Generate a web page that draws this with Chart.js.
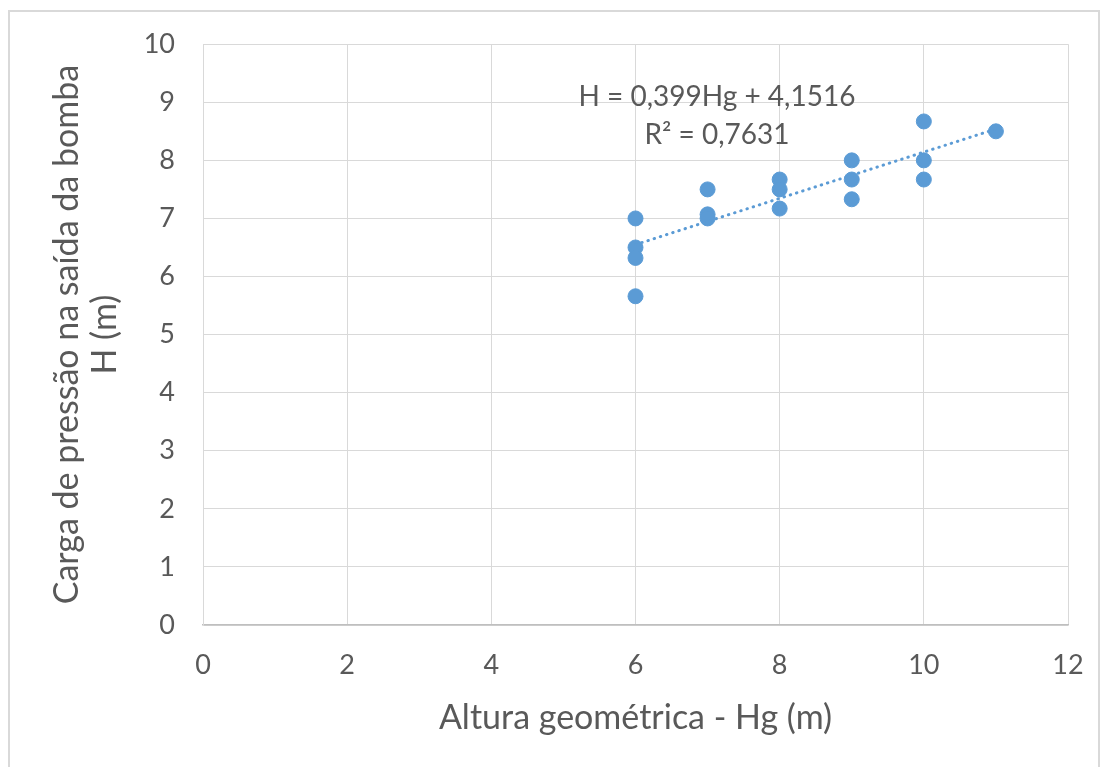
<!DOCTYPE html>
<html>
<head>
<meta charset="utf-8">
<script src="https://cdn.jsdelivr.net/npm/chart.js@4"></script>
<style>
  body { margin: 0; background: #fff; }
  #wrap { position: relative; width: 1105px; height: 767px; overflow: hidden; }
  #frame { position: absolute; left: 8px; top: 10px; width: 1092px; height: 780px; border: 2px solid #d9d9d9; box-sizing: border-box; }
  canvas { position: absolute; left: 0; top: 0; }
</style>
</head>
<body>
<div id="wrap">
  <div id="frame"></div>
  <canvas id="chart" width="1105" height="767"></canvas>
</div>
<script>
// measured points (Hg in m, H in m)
const hgValues = [6, 6, 6, 6, 7, 7, 7, 8, 8, 8, 9, 9, 9, 10, 10, 10, 11];
const hValues = [7.0, 6.5, 6.32, 5.66, 7.5, 7.07, 7.0, 7.67, 7.5, 7.17, 8.0, 7.67, 7.33, 8.67, 8.0, 7.67, 8.5];

// linear trendline ends, as drawn
const trendX = [6, 11];
const trendY = [6.55, 8.54];

const xTicks = [0, 2, 4, 6, 8, 10, 12];
const yTicks = [0, 1, 2, 3, 4, 5, 6, 7, 8, 9, 10];

const equationLines = ['H = 0,399Hg + 4,1516', 'R² = 0,7631'];

const textColor = '#595959';
const pointColor = '#5b9bd5';
const fontFamily = 'Lato, "Open Sans", sans-serif';

// writes the trendline equation on the plot
const equationLabel = {
  id: 'equationLabel',
  afterDatasetsDraw(chart) {
    const ctx = chart.ctx;
    const xs = chart.scales.x, ys = chart.scales.y;
    ctx.save();
    ctx.font = '28px ' + fontFamily;
    ctx.fillStyle = textColor;
    ctx.textAlign = 'center';
    ctx.textBaseline = 'middle';
    ctx.fillText(equationLines[0], xs.getPixelForValue(7.13), ys.getPixelForValue(9.09));
    ctx.fillText(equationLines[1], xs.getPixelForValue(7.13), ys.getPixelForValue(8.44));
    ctx.restore();
  }
};

const ctx = document.getElementById('chart').getContext('2d');
new Chart(ctx, {
  type: 'scatter',
  data: {
    datasets: [
      {
        label: 'Linear',
        type: 'line',
        data: trendX.map((x, i) => ({ x: x, y: trendY[i] })),
        borderColor: pointColor,
        borderWidth: 3,
        borderDash: [0.5, 6],
        borderCapStyle: 'round',
        pointRadius: 0,
        fill: false,
        order: 0
      },
      {
        label: 'H',
        data: hgValues.map((x, i) => ({ x: x, y: hValues[i] })),
        backgroundColor: pointColor,
        borderColor: pointColor,
        pointRadius: 7.5,
        order: 1
      }
    ]
  },
  options: {
    responsive: false,
    animation: false,
    layout: { padding: { top: 42, right: 37, left: 0, bottom: 0 } },
    plugins: {
      legend: { display: false },
      tooltip: { enabled: false }
    },
    scales: {
      x: {
        type: 'linear',
        min: 0,
        max: 12,
        afterBuildTicks: s => { s.ticks = xTicks.map(v => ({ value: v })); },
        afterFit: s => { s.height = 142; s.paddingLeft = 0; s.paddingRight = 0; },
        grid: { color: '#d9d9d9', drawTicks: false },
        border: { color: '#bfbfbf', width: 1.5 },
        ticks: { color: textColor, font: { family: fontFamily, size: 27 }, padding: 24 },
        title: {
          display: true,
          text: 'Altura geométrica - Hg (m)',
          color: textColor,
          font: { family: fontFamily, size: 34, lineHeight: 1.09 },
          padding: { top: 0, bottom: 30 }
        }
      },
      y: {
        type: 'linear',
        min: 0,
        max: 10,
        afterBuildTicks: s => { s.ticks = yTicks.map(v => ({ value: v })); },
        afterFit: s => { s.width = 203; },
        grid: { color: '#d9d9d9', drawTicks: false },
        border: { color: '#d9d9d9' },
        ticks: { color: textColor, font: { family: fontFamily, size: 27 }, padding: 28 },
        title: {
          display: true,
          text: ['Carga de pressão na saída da bomba', 'H (m)'],
          color: textColor,
          font: { family: fontFamily, size: 34, lineHeight: 1.09 },
          padding: { top: 49, bottom: 0 }
        }
      }
    }
  },
  plugins: [equationLabel]
});
</script>
</body>
</html>
